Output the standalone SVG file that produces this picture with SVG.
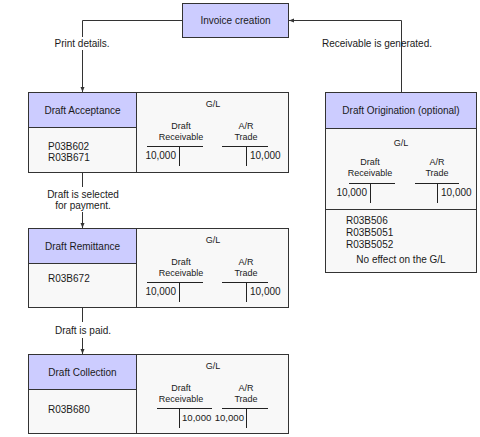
<svg xmlns="http://www.w3.org/2000/svg" width="480" height="437" viewBox="0 0 480 437">
<style>
text{font-family:"Liberation Sans",Arial,Helvetica,sans-serif;fill:#1a1a1a}
.t10{font-size:10px}
.t9{font-size:9px}
.n{font-size:9.6px}
.c{text-anchor:middle}
.e{text-anchor:end}
.hdr{fill:#ccccff;stroke:#333;stroke-width:1}
.body{fill:#f8f8f8;stroke:#333;stroke-width:1}
.ln{fill:none;stroke:#333;stroke-width:1}
.tl{fill:none;stroke:#222;stroke-width:1}
</style>
<defs>
<marker id="arr" viewBox="0 0 10 10" refX="10" refY="5" markerWidth="5" markerHeight="5" orient="auto" markerUnits="userSpaceOnUse">
<path d="M0,1 L10,5 L0,9 z" fill="#333"/>
</marker>
</defs>
<rect width="480" height="437" fill="#fff"/>

<g id="connectors">
<path class="ln" d="M182,20.5 H82.5 V37"/>
<path class="ln" d="M82.5,50 V92" marker-end="url(#arr)"/>
<path class="ln" d="M401.5,92 V37"/>
<path class="ln" d="M401.5,50 V20.5 H289" marker-end="url(#arr)"/>
<path class="ln" d="M82.5,173 V187"/>
<path class="ln" d="M82.5,212 V228" marker-end="url(#arr)"/>
<path class="ln" d="M82.5,308 V322"/>
<path class="ln" d="M82.5,338 V354" marker-end="url(#arr)"/>
<text class="t10 c" x="82" y="47">Print details.</text>
<text class="t10 c" x="377" y="47">Receivable is generated.</text>
<text class="t10 c" x="83" y="198">Draft is selected</text>
<text class="t10 c" x="83" y="209">for payment.</text>
<text class="t10 c" x="83" y="334">Draft is paid.</text>
</g>

<g id="invoice-creation">
<rect class="hdr" x="182.5" y="3.5" width="106" height="34"/>
<text class="t10 c" x="235.5" y="24">Invoice creation</text>
</g>

<g id="draft-acceptance">
<rect class="body" x="28.5" y="92.5" width="260" height="80"/>
<rect class="hdr" x="28.5" y="92.5" width="108" height="35"/>
<line class="ln" x1="136.5" y1="92.5" x2="136.5" y2="172.5"/>
<text class="t10 c" x="82.5" y="114">Draft Acceptance</text>
<text class="t10" x="48" y="150">P03B602</text>
<text class="t10" x="48" y="161">R03B671</text>
<text class="t9 c" x="213" y="107">G/L</text>
<text class="t9 c" x="181" y="129">Draft</text>
<text class="t9 c" x="181" y="140">Receivable</text>
<path class="tl" d="M147,146.5 H203 M179.5,146 V166"/>
<text class="t10 e" x="176" y="159">10,000</text>
<text class="t9 c" x="246" y="129">A/R</text>
<text class="t9 c" x="246" y="140">Trade</text>
<path class="tl" d="M222,146.5 H268 M246.5,146 V166"/>
<text class="t10" x="250" y="159">10,000</text>
</g>

<g id="draft-remittance">
<rect class="body" x="28.5" y="228.5" width="260" height="79"/>
<rect class="hdr" x="28.5" y="228.5" width="108" height="35"/>
<line class="ln" x1="136.5" y1="228.5" x2="136.5" y2="307.5"/>
<text class="t10 c" x="82.5" y="250">Draft Remittance</text>
<text class="t10" x="48" y="282">R03B672</text>
<text class="t9 c" x="213" y="243">G/L</text>
<text class="t9 c" x="181" y="265">Draft</text>
<text class="t9 c" x="181" y="276">Receivable</text>
<path class="tl" d="M147,282.5 H203 M179.5,282 V302"/>
<text class="t10 e" x="176" y="295">10,000</text>
<text class="t9 c" x="246" y="265">A/R</text>
<text class="t9 c" x="246" y="276">Trade</text>
<path class="tl" d="M222,282.5 H268 M246.5,282 V302"/>
<text class="t10" x="250" y="295">10,000</text>
</g>

<g id="draft-collection">
<rect class="body" x="28.5" y="354.5" width="260" height="79"/>
<rect class="hdr" x="28.5" y="354.5" width="108" height="35"/>
<line class="ln" x1="136.5" y1="354.5" x2="136.5" y2="433.5"/>
<text class="t10 c" x="82.5" y="376">Draft Collection</text>
<text class="t10" x="48" y="413">R03B680</text>
<text class="t9 c" x="213" y="369">G/L</text>
<text class="t9 c" x="181" y="391">Draft</text>
<text class="t9 c" x="181" y="402">Receivable</text>
<path class="tl" d="M157,408.5 H212 M179.5,408 V428"/>
<text class="n" x="182" y="421">10,000</text>
<text class="t9 c" x="246" y="391">A/R</text>
<text class="t9 c" x="246" y="402">Trade</text>
<path class="tl" d="M222,408.5 H268 M246.5,408 V428"/>
<text class="n e" x="244" y="421">10,000</text>
</g>

<g id="draft-origination">
<rect class="body" x="325.5" y="92.5" width="151" height="180"/>
<rect class="hdr" x="325.5" y="92.5" width="151" height="36"/>
<line class="ln" x1="325.5" y1="209.5" x2="476.5" y2="209.5"/>
<text class="t10 c" x="401" y="114">Draft Origination (optional)</text>
<text class="t9 c" x="401" y="146">G/L</text>
<text class="t9 c" x="370" y="165">Draft</text>
<text class="t9 c" x="370" y="176">Receivable</text>
<path class="tl" d="M349,183.5 H395 M370.5,183 V203"/>
<text class="t10 e" x="367" y="196">10,000</text>
<text class="t9 c" x="437" y="165">A/R</text>
<text class="t9 c" x="437" y="176">Trade</text>
<path class="tl" d="M415,183.5 H459 M437.5,183 V203"/>
<text class="t10" x="441" y="196">10,000</text>
<text class="t10" x="346" y="224">R03B506</text>
<text class="t10" x="346" y="236">R03B5051</text>
<text class="t10" x="346" y="248">R03B5052</text>
<text class="t10 c" x="401" y="263">No effect on the G/L</text>
</g>
</svg>
